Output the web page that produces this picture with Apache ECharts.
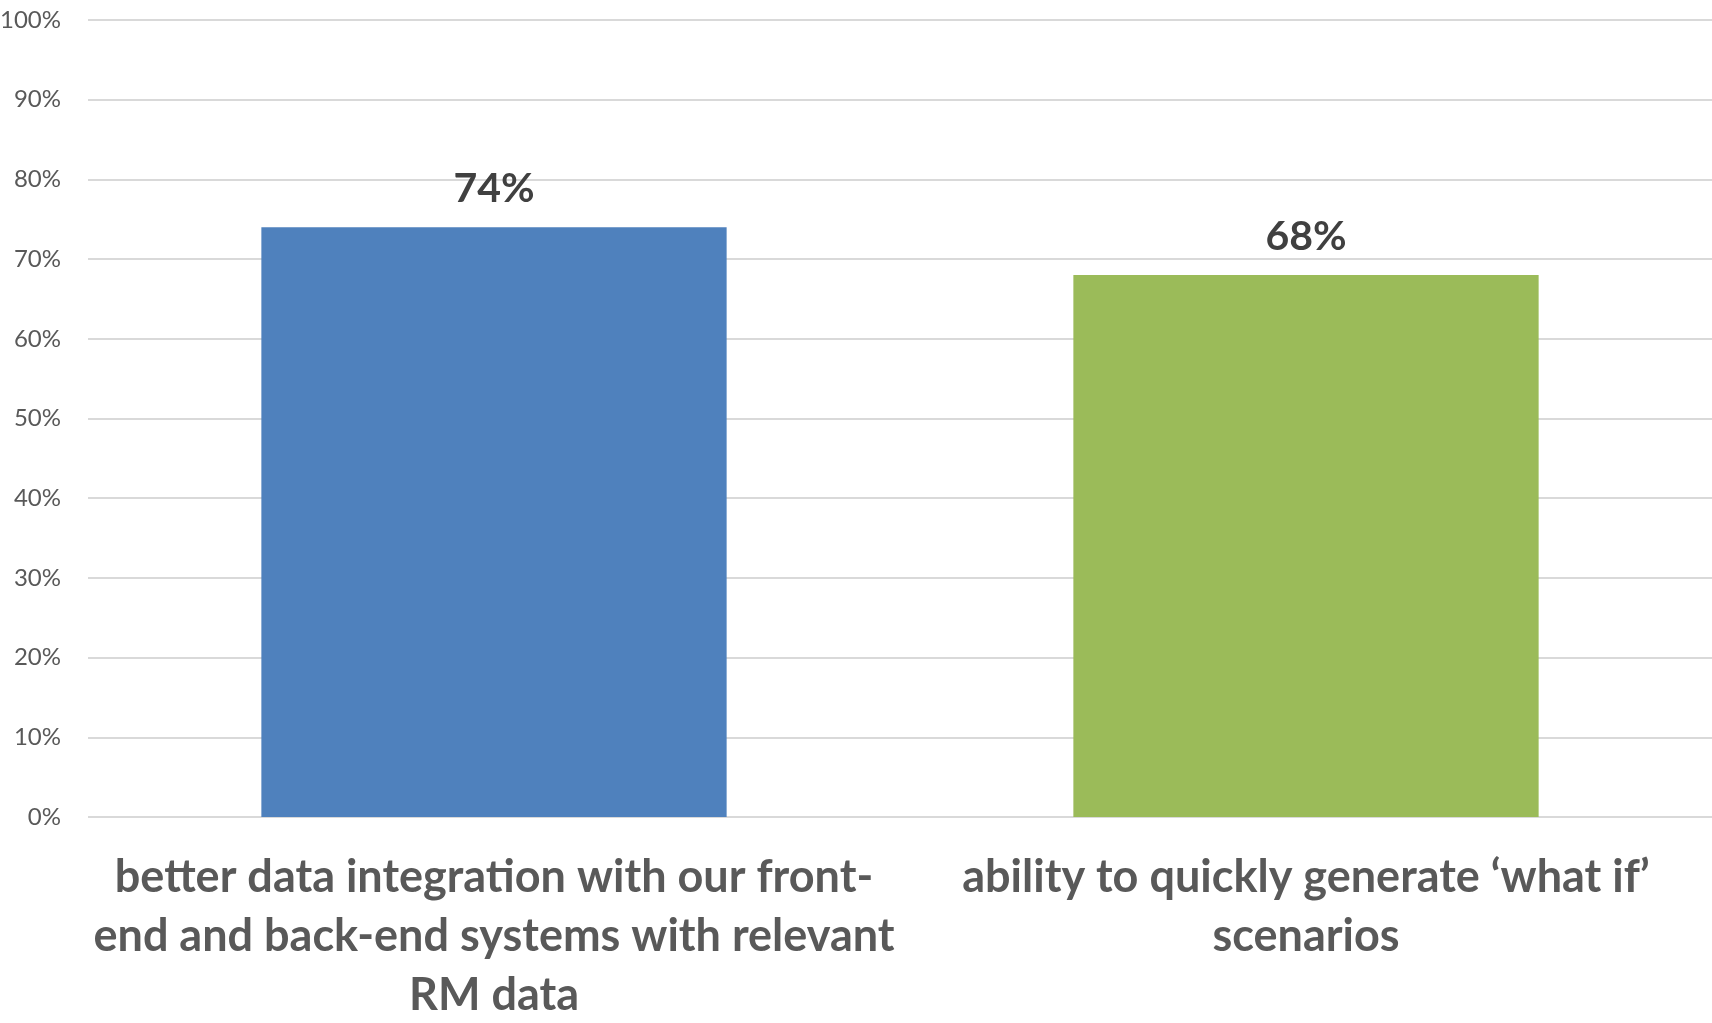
<!DOCTYPE html>
<html>
<head>
<meta charset="utf-8">
<style>
  html, body { margin: 0; padding: 0; background: #ffffff; }
  #chart { width: 1712px; height: 1023px; }
</style>
<script src="https://cdn.jsdelivr.net/npm/echarts@6/dist/echarts.min.js"></script>
</head>
<body>
<div id="chart"></div>
<script>
// Survey results: share of respondents naming each improvement
const categories = [
  'better data integration with our front-\nend and back-end systems with relevant\nRM data',
  'ability to quickly generate \u2018what if\u2019\nscenarios'
];
const values = [74, 68];
const barColors = ['#4F81BD', '#9BBB59'];
const yTicks = { min: 0, max: 100, interval: 10 };

const chart = echarts.init(document.getElementById('chart'), null, { renderer: 'canvas' });

chart.setOption({
  backgroundColor: '#ffffff',
  animation: false,
  grid: {
    left: 88, right: 0, top: 20, bottom: 206,
    containLabel: false,
    outerBoundsMode: 'none'
  },
  xAxis: {
    type: 'category',
    data: categories,
    axisLine: { show: false },
    axisTick: { show: false },
    axisLabel: {
      interval: 0,
      margin: 31,
      color: '#595959',
      fontFamily: 'Lato, "Open Sans", sans-serif',
      fontWeight: 'bold',
      fontSize: 45,
      lineHeight: 59,
      align: 'center'
    }
  },
  yAxis: {
    type: 'value',
    min: yTicks.min,
    max: yTicks.max,
    interval: yTicks.interval,
    axisLine: { show: false },
    axisTick: { show: false },
    splitLine: { lineStyle: { color: '#D9D9D9', width: 2 } },
    axisLabel: {
      margin: 27,
      color: '#595959',
      fontFamily: 'Lato, "Open Sans", sans-serif',
      fontSize: 24,
      formatter: '{value}%'
    }
  },
  series: [{
    type: 'bar',
    data: values.map((v, i) => ({ value: v, itemStyle: { color: barColors[i] } })),
    barWidth: '57.3%',
    label: {
      show: true,
      position: 'top',
      distance: 18,
      color: '#404040',
      fontFamily: 'Lato, "Open Sans", sans-serif',
      fontWeight: 'bold',
      fontSize: 41,
      formatter: '{c}%'
    }
  }]
});
</script>
</body>
</html>
